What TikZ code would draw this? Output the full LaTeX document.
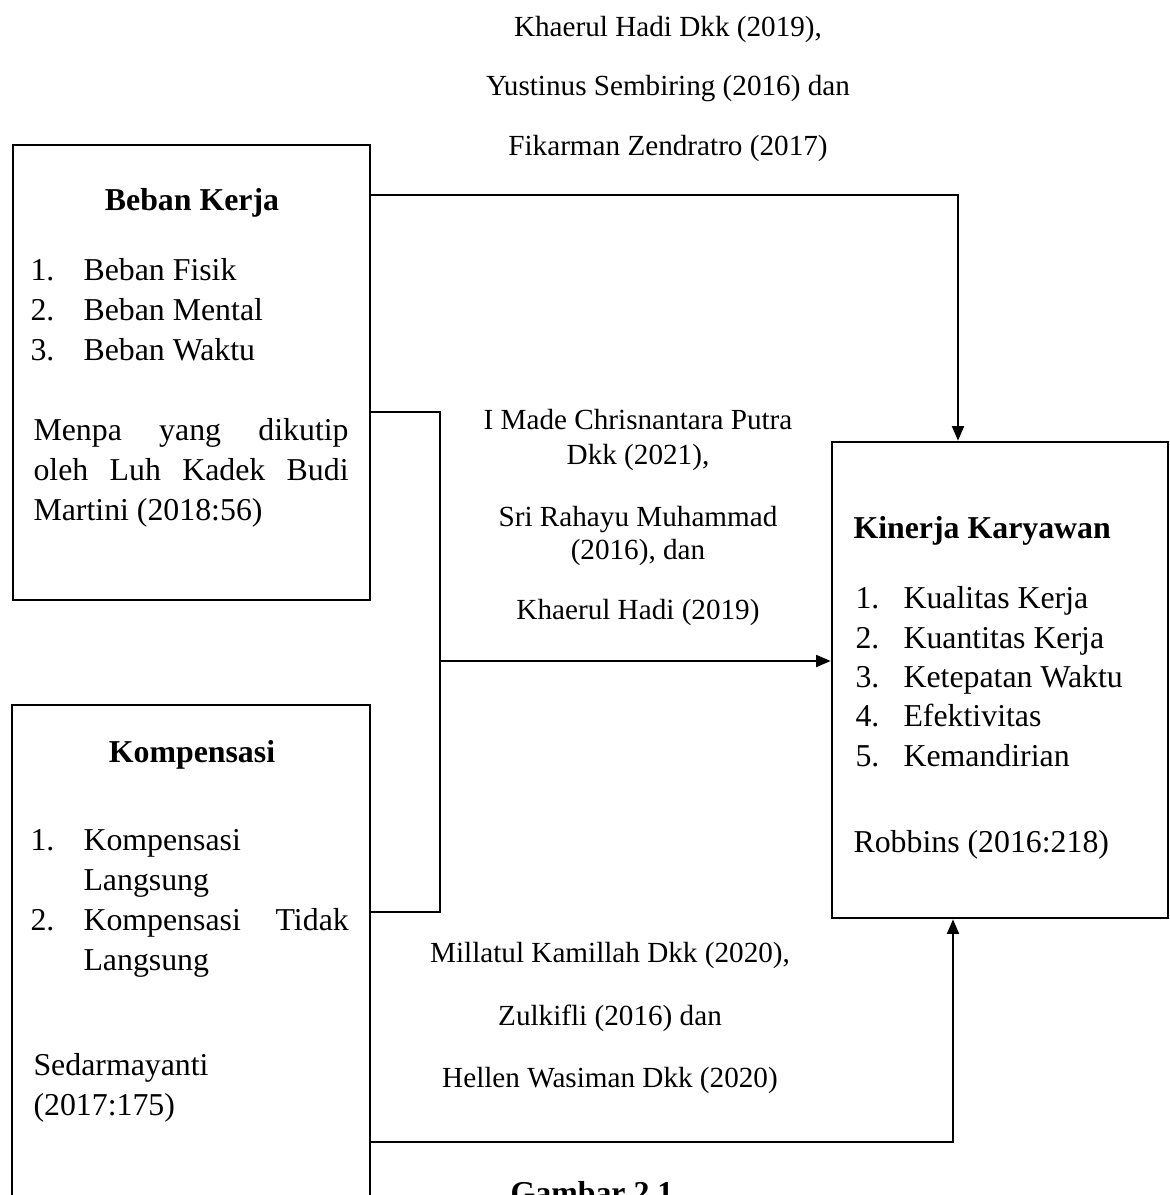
\documentclass[tikz,border=0pt]{standalone}
\usepackage{fontspec}
\setmainfont{Liberation Serif}
\usetikzlibrary{arrows.meta}
\tikzset{
    box/.style={draw, line width=1pt, inner sep=0pt},
    ttl/.style={anchor=base, inner sep=0pt, font=\fontsize{12}{15}\selectfont\bfseries},
    itm/.style={anchor=base west, inner sep=0pt, font=\fontsize{12}{15}\selectfont},
    lbl/.style={anchor=base, inner sep=0pt, font=\fontsize{11}{13}\selectfont},
    conn/.style={line width=0.5pt},
    tip/.style={-{Triangle[length=5.5pt,width=4.6pt]}},
}

\begin{document}
\begin{tikzpicture}[x=0.377pt, y=-0.377pt]
\useasboundingbox (0,0) rectangle (1170,1195);
\clip (0,0) rectangle (1170,1195);

% boxes
\node[box, minimum width=134.6pt, minimum height=171.5pt] (bk) at (191.5,372.5) {};
\node[box, minimum width=135pt, minimum height=209.2pt] (kp) at (191,982.5) {};
\node[box, minimum width=126.7pt, minimum height=179.5pt] (kk) at (1000,680) {};

% Beban Kerja
\node[ttl] (bkt) at (192,210) {Beban Kerja};
\node[itm] (bkn1) at (30,280) {1.}; \node[itm] (bki1) at (83,280) {Beban Fisik};
\node[itm] (bkn2) at (30,320) {2.}; \node[itm] (bki2) at (83,320) {Beban Mental};
\node[itm] (bkn3) at (30,360) {3.}; \node[itm] (bki3) at (83,360) {Beban Waktu};
\node[itm] (bkr1) at (33,440) {\makebox[118.8pt][s]{Menpa yang dikutip}};
\node[itm] (bkr2) at (33,480) {\makebox[118.8pt][s]{oleh Luh Kadek Budi}};
\node[itm] (bkr3) at (33,520) {Martini (2018:56)};

% Kompensasi
\node[ttl] (kpt) at (192,762) {Kompensasi};
\node[itm] (kpn1) at (30,850) {1.}; \node[itm] (kpi1) at (83,850) {Kompensasi};
\node[itm] (kpi1b) at (83,890) {Langsung};
\node[itm] (kpn2) at (30,930) {2.}; \node[itm] (kpi2) at (83,930) {\makebox[100pt][s]{Kompensasi Tidak}};
\node[itm] (kpi2b) at (83,970) {Langsung};
\node[itm] (kpr1) at (33,1075) {Sedarmayanti};
\node[itm] (kpr2) at (33,1115) {(2017:175)};

% Kinerja Karyawan
\node[ttl, anchor=base west] (kkt) at (853,538) {Kinerja Karyawan};
\node[itm] (kkn1) at (855,608) {1.}; \node[itm] (kki1) at (903,608) {Kualitas Kerja};
\node[itm] (kkn2) at (855,648) {2.}; \node[itm] (kki2) at (903,648) {Kuantitas Kerja};
\node[itm] (kkn3) at (855,687) {3.}; \node[itm] (kki3) at (903,687) {Ketepatan Waktu};
\node[itm] (kkn4) at (855,726) {4.}; \node[itm] (kki4) at (903,726) {Efektivitas};
\node[itm] (kkn5) at (855,766) {5.}; \node[itm] (kki5) at (903,766) {Kemandirian};
\node[itm] (kkr) at (853,852) {Robbins (2016:218)};

% sources on the connectors
\node[lbl] (st1) at (668,37) {Khaerul Hadi Dkk (2019),};
\node[lbl] (st2) at (668,96) {Yustinus Sembiring (2016) dan};
\node[lbl] (st3) at (668,156) {Fikarman Zendratro (2017)};

\node[lbl] (sm1) at (638,429) {I Made Chrisnantara Putra};
\node[lbl] (sm2) at (638,464) {Dkk (2021),};
\node[lbl] (sm3) at (638,526) {Sri Rahayu Muhammad};
\node[lbl] (sm4) at (638,559) {(2016), dan};
\node[lbl] (sm5) at (638,619) {Khaerul Hadi (2019)};

\node[lbl] (sb1) at (610,962) {Millatul Kamillah Dkk (2020),};
\node[lbl] (sb2) at (610,1025) {Zulkifli (2016) dan};
\node[lbl] (sb3) at (610,1087) {Hellen Wasiman Dkk (2020)};

\node[ttl] (cap) at (592,1203) {Gambar 2.1};

% connectors
\coordinate (tt) at (958,195);
\coordinate (jt) at (440,412);
\coordinate (jb) at (440,912);
\coordinate (jm) at (440,661);
\coordinate (bb) at (953,1142);

\draw[conn, tip] (bk.east |- tt) -| (kk.north -| tt);
\draw[conn] (bk.east |- jt) -| (jb) -- (kp.east |- jb);
\draw[conn, tip] (jm) -- (jm -| kk.west);
\draw[conn, tip] (kp.east |- bb) -| (kk.south -| bb);
\end{tikzpicture}
\end{document}
